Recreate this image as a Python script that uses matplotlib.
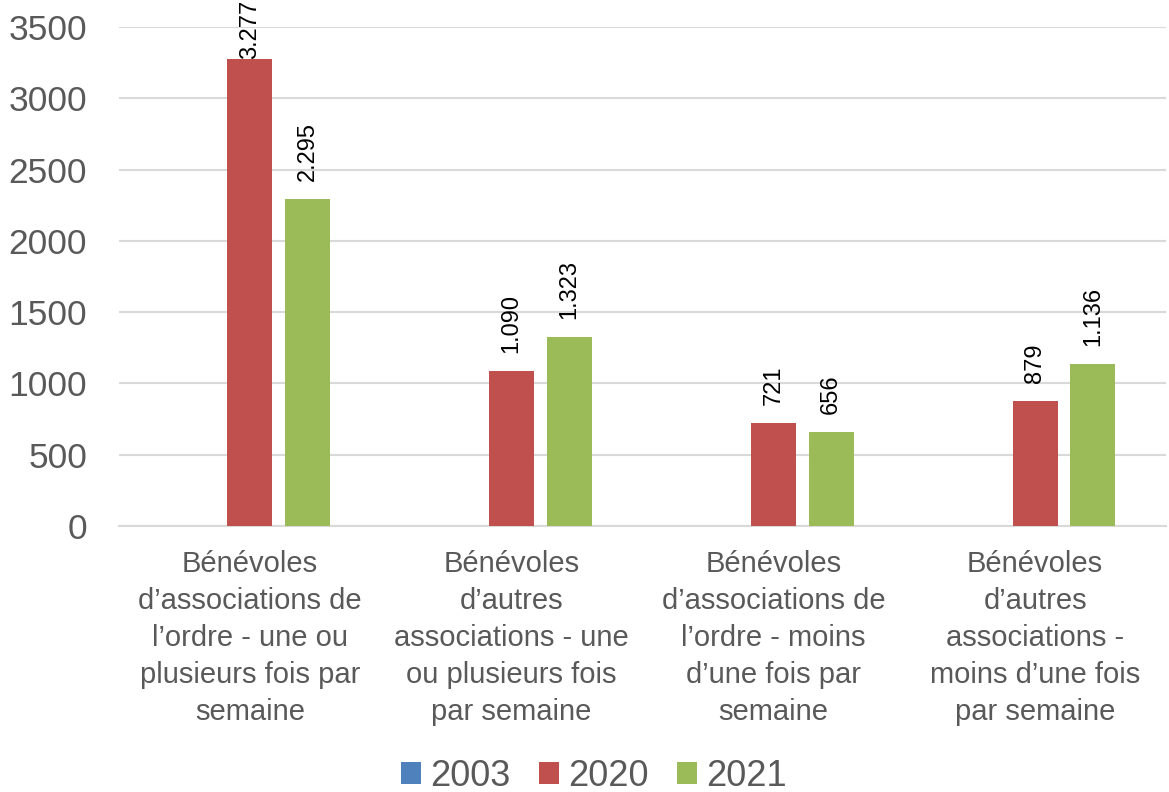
import numpy as np
import matplotlib.pyplot as plt

plt.rcParams['font.family'] = ['Liberation Sans', 'DejaVu Sans']

categories = [
    "Bénévoles\nd’associations de\nl’ordre - une ou\nplusieurs fois par\nsemaine",
    "Bénévoles\nd’autres\nassociations - une\nou plusieurs fois\npar semaine",
    "Bénévoles\nd’associations de\nl’ordre - moins\nd’une fois par\nsemaine",
    "Bénévoles\nd’autres\nassociations -\nmoins d’une fois\npar semaine",
]
years = ["2003", "2020", "2021"]
v2003 = [0, 0, 0, 0]
v2020 = [3277, 1090, 721, 879]
v2021 = [2295, 1323, 656, 1136]
colors = ["#4F81BD", "#C0504D", "#9BBB59"]

fig = plt.figure(figsize=(11.69, 7.92), dpi=100)
ax = fig.add_axes([0.1018, 0.3359, 0.8956, 0.630])

x = np.arange(len(categories))
width = 0.172
step = 0.221
texts = []
for i, (vals, col, yr) in enumerate(zip([v2003, v2020, v2021], colors, years)):
    pos = x + (i - 1) * step
    ax.bar(pos, vals, width, color=col, label=yr, zorder=3)
    for px, v in zip(pos, vals):
        if v == 0:
            continue
        lab = f"{v / 1000:.3f}" if v >= 1000 else str(v)
        t = ax.annotate(lab, (px, v), xytext=(0, 13), textcoords='offset points',
                        rotation=90, ha='center', va='bottom', fontsize=17,
                        color='black', annotation_clip=False)
        texts.append(t)

ax.set_ylim(0, 3500)
ax.set_xlim(-0.5, len(categories) - 0.5)
ax.set_yticks(np.arange(0, 3501, 500))
ax.set_xticks(x)
ax.set_xticklabels(categories, fontsize=21, color='#595959', linespacing=1.41)
ax.tick_params(axis='y', labelsize=25.5, labelcolor='#595959', length=0, pad=23)
ax.tick_params(axis='x', length=0, pad=17.5)
ax.grid(axis='y', color='#D9D9D9', linewidth=1.5, zorder=0)
for s in ['top', 'right', 'left']:
    ax.spines[s].set_visible(False)
ax.spines['bottom'].set_color('#D9D9D9')
ax.spines['bottom'].set_linewidth(1.5)

# keep labels that run off the top inside the figure
fig.canvas.draw()
r = fig.canvas.get_renderer()
for t in texts:
    bb = t.get_window_extent(r)
    if bb.y1 > fig.bbox.y1:
        t.xyann = (0, 13 - (bb.y1 - fig.bbox.y1) * 72 / fig.dpi)

fig.legend(loc='lower center', bbox_to_anchor=(0.508, -0.043), ncol=3, frameon=False,
           fontsize=26, handlelength=0.55, handleheight=0.55, handletextpad=0.25,
           columnspacing=0.8, labelcolor='#595959')

fig.savefig('out.png', dpi=100)
